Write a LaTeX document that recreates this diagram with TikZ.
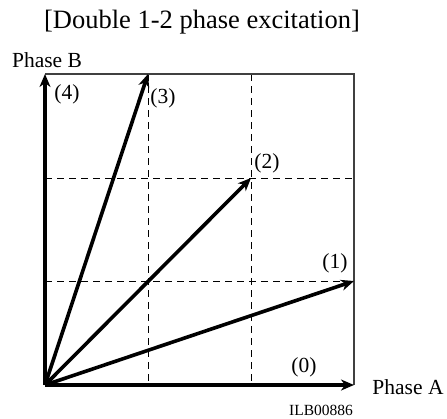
\documentclass[tikz,border=0pt]{standalone}
\usepackage{fontspec}
\setmainfont{Liberation Serif}
\usetikzlibrary{arrows.meta}
\begin{document}
\begin{tikzpicture}[x=1pt,y=-1pt,
  vec/.style={line width=3.6pt,-{Stealth[length=13pt,width=11pt,inset=4pt]}},
  grid/.style={line width=0.9pt,dash pattern=on 7pt off 5pt},
  frame/.style={line width=1.4pt,draw=black!75},
  lbl/.style={inner sep=0pt,font=\fontsize{21.5}{25}\selectfont},
  ttl/.style={inner sep=0pt,font=\fontsize{26.5}{30}\selectfont},
  small/.style={inner sep=0pt,font=\fontsize{15.5}{18}\selectfont}]
\useasboundingbox (0,0) rectangle (447,418);
\coordinate (O) at (45,385);
\coordinate (TL) at (45,74);
\coordinate (BR) at (354,385);
\coordinate (TR) at (354,74);
\coordinate (V1) at (148,74);
\coordinate (V1b) at (148,385);
\coordinate (V2) at (251,74);
\coordinate (V2b) at (251,385);
\coordinate (H1) at (45,281);
\coordinate (H1b) at (354,281);
\coordinate (H2) at (45,178);
\coordinate (H2b) at (354,178);
\coordinate (E0) at (354,385);
\coordinate (E1) at (354,281);
\coordinate (E2) at (251,178);
\coordinate (E3) at (148,74);
\coordinate (E4) at (45,74);
% grid
\draw[grid] (V1) -- (V1b);
\draw[grid] (V2) -- (V2b);
\draw[grid] (H1) -- (H1b);
\draw[grid] (H2) -- (H2b);
% frame
\draw[frame] (TL) -- (TR) -- (BR);
% vectors
\draw[vec] (O) -- (E0);
\draw[vec] (O) -- (E1);
\draw[vec] (O) -- (E2);
\draw[vec] (O) -- (E3);
\draw[vec] (O) -- (E4);
% labels
\node[ttl] (title) at (202,22) {[Double 1-2 phase excitation]};
\node[lbl] (pb) at (47,60) {Phase B};
\node[lbl] (pa) at (408,387) {Phase A};
\node[small] (id) at (321,410) {ILB00886};
\node[lbl] (l0) at (304,367) {(0)};
\node[lbl] (l1) at (335,263) {(1)};
\node[lbl] (l2) at (267,163) {(2)};
\node[lbl] (l3) at (163,98) {(3)};
\node[lbl] (l4) at (67,94) {(4)};
\end{tikzpicture}
\end{document}
